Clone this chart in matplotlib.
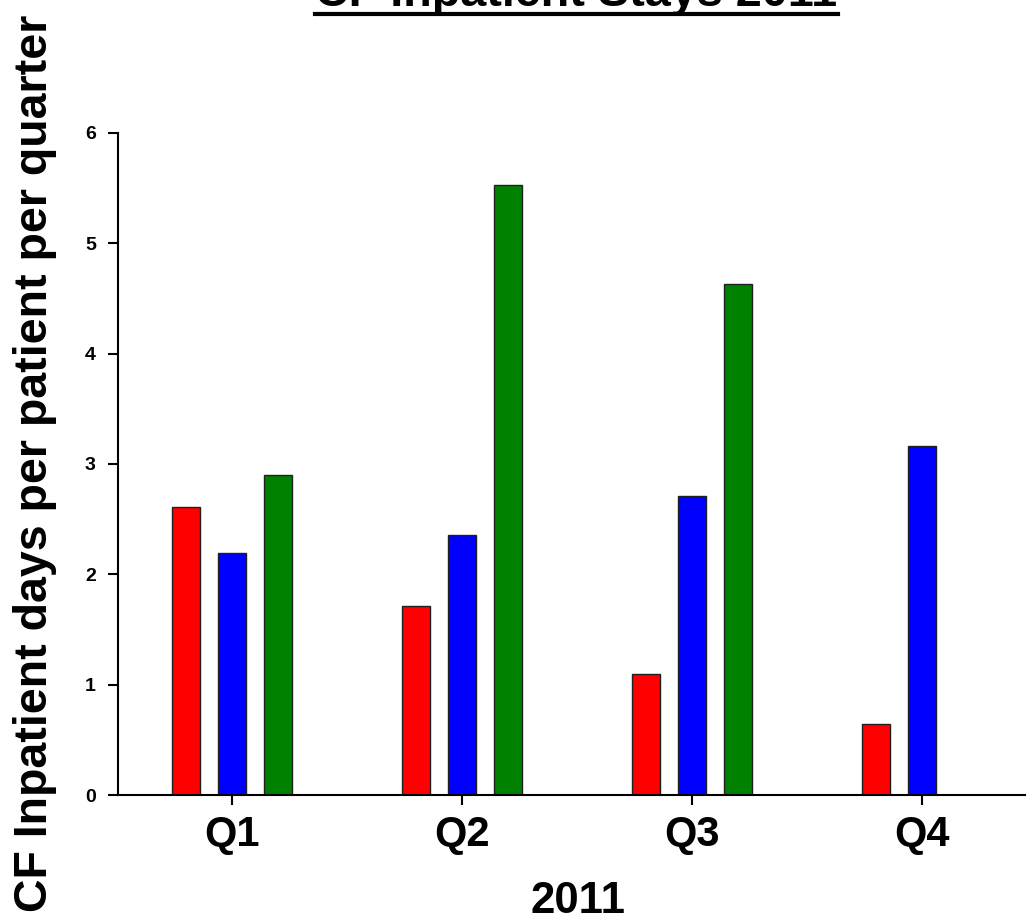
#Header files
import numpy as np
import matplotlib
matplotlib.use('Agg')
import matplotlib.pyplot as plt
from matplotlib.lines import Line2D

plt.rcParams['font.family'] = ['Liberation Sans', 'DejaVu Sans']
plt.rcParams['font.weight'] = 'bold'

# data
quarters = ['Q1', 'Q2', 'Q3', 'Q4']
red_vals = [2.61, 1.71, 1.10, 0.64]
blue_vals = [2.19, 2.36, 2.71, 3.16]
green_vals = [2.90, 5.53, 4.63, np.nan]
bar_colors = ['#ff0000', '#0000ff', '#008000']

fig = plt.figure(figsize=(10.27, 9.16), dpi=100)
ax = fig.add_axes([0.115, 0.132, 0.883, 0.723])

x = np.arange(len(quarters))
width = 0.12
pitch = 0.2
for i, vals in enumerate([red_vals, blue_vals, green_vals]):
    ax.bar(x + (i - 1) * pitch, vals, width, color=bar_colors[i],
           edgecolor='#202020', linewidth=1)

ax.set_xlim(-0.496, 3.448)
ax.set_ylim(0, 6)
ax.set_xticks(x)
ax.set_xticklabels(quarters, fontsize=30, fontweight='bold')
ax.set_yticks(range(7))
ax.set_yticklabels([str(v) for v in range(7)], fontsize=14, fontweight='bold')
ax.tick_params(axis='y', direction='out', length=7.5, width=1.5, pad=8.5)
ax.tick_params(axis='x', direction='out', length=7, width=1.5, pad=7)

ax.spines['top'].set_visible(False)
ax.spines['right'].set_visible(False)
ax.spines['left'].set_linewidth(1.5)
ax.spines['bottom'].set_linewidth(1.5)

# axis titles
fig.text(578.5 / 1027, 0.0035, '2011', fontsize=31.5, fontweight='bold',
         ha='center', va='baseline')
fig.text(0.034, 0.494, 'CF Inpatient days per patient per quarter', rotation=90,
         fontsize=33.5, fontweight='bold', ha='center', va='center')

# title with underline (cut off at top like the original)
title = fig.text(0.5613, 0.9934, 'CF Inpatient Stays 2011', fontsize=33.7,
                 fontweight='bold', ha='center', va='baseline')
fig.canvas.draw()
bb = title.get_window_extent().transformed(fig.transFigure.inverted())
fig.add_artist(Line2D([bb.x0, bb.x1], [0.9847, 0.9847], color='black',
                      linewidth=3, transform=fig.transFigure))

plt.savefig('out.png', dpi=100)
